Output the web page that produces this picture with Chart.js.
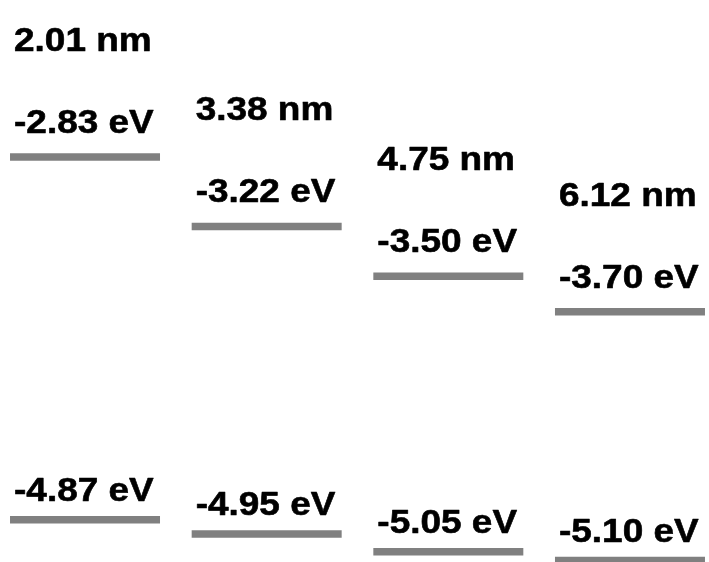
<!DOCTYPE html>
<html>
<head>
<meta charset="utf-8">
<script src="https://cdn.jsdelivr.net/npm/chart.js@4/dist/chart.umd.min.js"></script>
<style>
  html, body { margin: 0; padding: 0; background: #ffffff; }
  #wrap { width: 709px; height: 562px; }
</style>
</head>
<body>
<div id="wrap"><canvas id="levels" width="709" height="562"></canvas></div>
<script>
// Quantum-dot sizes and their band-edge energies (eV)
const sizes = ['2.01 nm', '3.38 nm', '4.75 nm', '6.12 nm'];
const lumo = [-2.83, -3.22, -3.50, -3.70];
const homo = [-4.87, -4.95, -5.05, -5.10];

const levelColor = '#808080';
const labelFont = 'bold 33px "Liberation Sans", Arial, sans-serif';

const toPoints = arr => arr.map((v, i) => ({ x: i, y: v }));

// Writes the size above each column and the energy above each level
const levelLabels = {
  id: 'levelLabels',
  afterDatasetsDraw(chart) {
    const ctx = chart.ctx;
    const xs = chart.scales.x, ys = chart.scales.y;
    const half = chart.data.datasets[0].pointRadius;
    const put = (text, x, y) => {
      ctx.save();
      ctx.translate(x, y);
      ctx.scale(1.12, 1);
      ctx.fillText(text, 0, 0);
      ctx.strokeText(text, 0, 0);
      ctx.restore();
    };
    ctx.save();
    ctx.font = labelFont;
    ctx.fillStyle = '#000000';
    ctx.strokeStyle = '#000000';
    ctx.lineWidth = 0.6;
    ctx.lineJoin = 'round';
    ctx.textAlign = 'left';
    ctx.textBaseline = 'alphabetic';
    sizes.forEach((s, i) => {
      const left = xs.getPixelForValue(i) - half + 4;
      const yL = ys.getPixelForValue(lumo[i]);
      const yH = ys.getPixelForValue(homo[i]);
      put(s, left, yL - 106);
      put(lumo[i].toFixed(2) + ' eV', left, yL - 24);
      put(homo[i].toFixed(2) + ' eV', left, yH - 19);
    });
    ctx.restore();
  }
};

const levelSet = (label, values) => ({
  label,
  data: toPoints(values),
  pointStyle: 'line',
  pointRadius: 75,
  pointHoverRadius: 75,
  pointBorderWidth: 7.5,
  pointHoverBorderWidth: 7.5,
  borderColor: levelColor,
  backgroundColor: levelColor,
  clip: false
});

new Chart(document.getElementById('levels'), {
  type: 'scatter',
  data: {
    datasets: [levelSet('LUMO', lumo), levelSet('HOMO', homo)]
  },
  options: {
    responsive: false,
    animation: false,
    events: [],
    layout: { padding: 0, autoPadding: false },
    plugins: {
      legend: { display: false },
      tooltip: { enabled: false }
    },
    scales: {
      x: { type: 'linear', min: -0.468, max: 3.435, display: false },
      y: { type: 'linear', min: -5.108, max: -1.946, display: false }
    }
  },
  plugins: [levelLabels]
});
</script>
</body>
</html>
